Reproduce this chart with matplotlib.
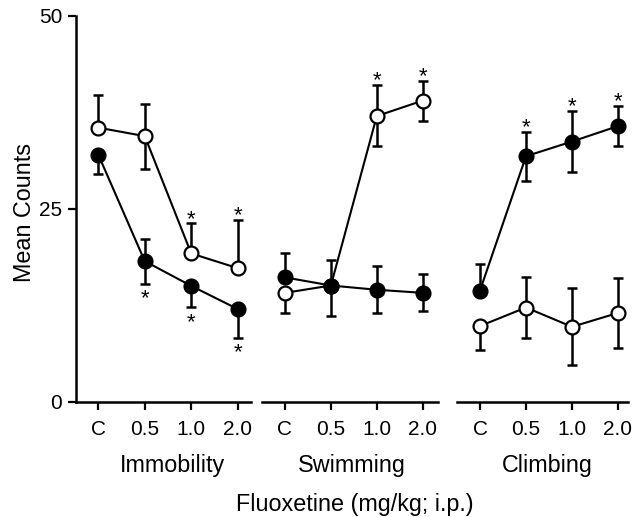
import matplotlib
matplotlib.use("Agg")
import matplotlib.pyplot as plt

plt.rcParams['font.family'] = ['Liberation Sans', 'DejaVu Sans']

# ---------------- data ----------------
doses = ["C", "0.5", "1.0", "2.0"]
groups = ["Immobility", "Swimming", "Climbing"]

# open circles
open_mean = [[35.5, 34.4, 19.2, 17.3],
             [14.1, 15.05, 37.0, 39.0],
             [9.8, 12.2, 9.7, 11.5]]
open_up = [[4.2, 4.2, 3.9, 6.3],
           [0.0, 0.0, 4.0, 2.6],
           [0.0, 3.9, 5.0, 4.5]]
open_dn = [[0.0, 4.2, 0.0, 0.0],
           [2.6, 3.95, 3.9, 2.6],
           [3.1, 3.9, 5.0, 4.5]]

# filled circles
filled_mean = [[32.0, 18.2, 15.0, 12.0],
               [16.1, 15.05, 14.5, 14.1],
               [14.4, 31.8, 33.7, 35.7]]
filled_up = [[0.0, 2.9, 0.0, 0.0],
             [3.2, 3.3, 3.1, 2.4],
             [3.4, 3.2, 4.0, 2.6]]
filled_dn = [[2.5, 2.9, 2.75, 3.7],
             [0.0, 0.0, 3.0, 2.4],
             [0.0, 3.2, 4.0, 2.6]]

# significance markers (dose indices per group)
open_sig_above = [[2, 3], [2, 3], []]
filled_sig_below = [[1, 2, 3], [], []]
filled_sig_above = [[], [], [1, 2, 3]]

# ---------------- layout ----------------
W, H = 635, 517
fig = plt.figure(figsize=(W / 100, H / 100), dpi=100)

y_top_px, y_bot_px = 15.7, 401.7
# (axes left px, axes right px, first tick px, last tick px)
panels_px = [(76.0, 250.7, 98.3, 237.7),
             (261.7, 438.3, 285.0, 422.7),
             (456.7, 627.7, 480.0, 618.0)]
label_cx = [172.5, 352.0, 547.0]

x = list(range(len(doses)))
lw_axis = 1.8
star_fs = 16
above_off = -1.0
below_off = -15

for g, (l, r, t0, t1) in enumerate(panels_px):
    ax = fig.add_axes([l / W, 1 - y_bot_px / H, (r - l) / W, (y_bot_px - y_top_px) / H])
    step = (t1 - t0) / 3.0
    ax.set_xlim(-(t0 - l) / step, 3 + (r - t1) / step)
    ax.set_ylim(0, 50)
    for s in ["top", "right"]:
        ax.spines[s].set_visible(False)
    ax.spines["bottom"].set_linewidth(lw_axis)
    ax.spines["left"].set_linewidth(lw_axis)
    ax.set_xticks(x)
    ax.set_xticklabels(doses, fontsize=15)
    ax.tick_params(axis="x", length=6, width=1.6, pad=7, direction="out")
    if g == 0:
        ax.set_yticks([0, 25, 50])
        ax.set_yticklabels(["0", "25", "50"], fontsize=15)
        ax.tick_params(axis="y", length=6, width=1.6, pad=4, direction="out")
    else:
        ax.spines["left"].set_visible(False)
        ax.set_yticks([])
    ax.patch.set_visible(False)

    # open series
    ax.errorbar(x, open_mean[g], yerr=[open_dn[g], open_up[g]], fmt="none",
                ecolor="black", elinewidth=1.8, capsize=3.4, capthick=1.8,
                zorder=2, clip_on=False)
    ax.plot(x, open_mean[g], "-", color="black", lw=1.5, marker="o", ms=10,
            mfc="white", mec="black", mew=1.6, zorder=3, clip_on=False)
    # filled series
    ax.errorbar(x, filled_mean[g], yerr=[filled_dn[g], filled_up[g]], fmt="none",
                ecolor="black", elinewidth=1.8, capsize=3.4, capthick=1.8,
                zorder=4, clip_on=False)
    ax.plot(x, filled_mean[g], "-", color="black", lw=1.5, marker="o", ms=10,
            mfc="black", mec="black", mew=1.6, zorder=5, clip_on=False)

    for i in open_sig_above[g]:
        ax.annotate("*", xy=(i, open_mean[g][i] + open_up[g][i]), xytext=(0, above_off),
                    textcoords="offset points", ha="center", va="baseline",
                    fontsize=star_fs, zorder=6)
    for i in filled_sig_above[g]:
        ax.annotate("*", xy=(i, filled_mean[g][i] + filled_up[g][i]), xytext=(0, above_off),
                    textcoords="offset points", ha="center", va="baseline",
                    fontsize=star_fs, zorder=6)
    for i in filled_sig_below[g]:
        ax.annotate("*", xy=(i, filled_mean[g][i] - filled_dn[g][i]), xytext=(0, below_off),
                    textcoords="offset points", ha="center", va="baseline",
                    fontsize=star_fs, zorder=6)

    fig.text(label_cx[g] / W, 1 - 471.7 / H, groups[g], ha="center", va="baseline",
             fontsize=16.8)

fig.text(355 / W, 1 - 510.7 / H, "Fluoxetine (mg/kg; i.p.)", ha="center",
         va="baseline", fontsize=16.8)
fig.text(24.5 / W, 1 - 213 / H, "Mean Counts", rotation=90, ha="center",
         va="center", fontsize=16.8)

fig.savefig("out.png", dpi=100)
